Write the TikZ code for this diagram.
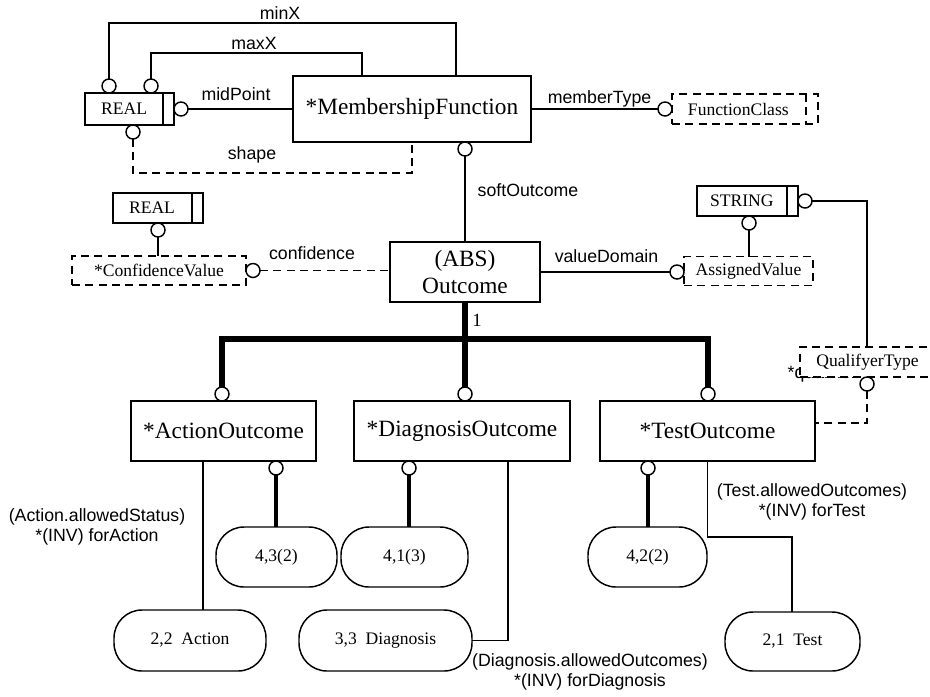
\documentclass[tikz,border=0pt]{standalone}
\usepackage{fontspec}
\setmainfont{Liberation Serif}
\newfontfamily\labfont{Liberation Sans}
\begin{document}
\begin{tikzpicture}[x=0.75pt,y=-0.75pt,
  line width=1.1pt,
  box/.style={draw, rectangle, inner sep=0pt, outer sep=0pt, align=center},
  big/.style={box, font=\fontsize{17.5}{20}\selectfont},
  small/.style={box, font=\fontsize{13.2}{15}\selectfont},
  dbox/.style={small, line width=0.8pt, dash pattern=on 6pt off 4pt, fill=white},
  rbox/.style={small, rounded corners=21pt},
  oc/.style={circle, draw, fill=white, minimum size=10.5pt, inner sep=0pt, outer sep=0pt},
  lab/.style={font=\labfont\fontsize{13.3}{15}\selectfont, inner sep=0pt, align=center},
  dline/.style={line width=0.8pt, dash pattern=on 6pt off 4pt},
  tree/.style={line width=4pt},
  stem/.style={line width=3pt}
]
\clip (0,0) rectangle (930,696);
\fill[white] (0,0) rectangle (930,696);

% entity boxes
\node[big, minimum width=178.5pt, minimum height=49.5pt] (mf) at (412,109) {*MembershipFunction};
\node[small, minimum width=66.75pt, minimum height=24pt] (real1) at (129.5,109) {REAL\hspace{8pt}};
\node[dbox, minimum width=109.5pt, minimum height=22.5pt] (fc) at (745,109) {FunctionClass\hspace{10pt}};
\node[small, minimum width=67.5pt, minimum height=22.5pt] (real2) at (158,208) {REAL\hspace{9pt}};
\node[dbox, minimum width=130.5pt, minimum height=21.75pt] (cv) at (159,270.5) {*ConfidenceValue};
\node[big, minimum width=112.5pt, minimum height=45pt] (out) at (465,272) {(ABS)\\Outcome};
\node[small, minimum width=75.75pt, minimum height=22.5pt] (str) at (747.5,201) {STRING\hspace{8.5pt}};
\node[dbox, minimum width=96.75pt, minimum height=21.75pt] (av) at (748.5,271) {AssignedValue};
\node[lab, anchor=base west] (qlab) at (787,378) {*qualifier};
\node[dbox, minimum width=101.25pt, minimum height=22.5pt] (qt) at (867.5,362) {QualifyerType};
\node[big, minimum width=138.75pt, minimum height=45pt] (ao) at (223.5,431) {*ActionOutcome};
\node[big, minimum width=162pt, minimum height=45pt] (do) at (462,431) {*DiagnosisOutcome};
\node[big, minimum width=161.25pt, minimum height=45pt] (to) at (707.5,431) {*TestOutcome};
\node[rbox, minimum width=90.75pt, minimum height=45pt] (r43) at (276.5,557) {4,3(2)};
\node[rbox, minimum width=95.25pt, minimum height=45pt] (r41) at (404.5,557) {4,1(3)};
\node[rbox, minimum width=89.25pt, minimum height=45pt] (r42) at (647.5,557) {4,2(2)};
\node[rbox, minimum width=114pt, minimum height=45.75pt] (r22) at (190,640.5) {2,2\ \ Action};
\node[rbox, minimum width=129.75pt, minimum height=45.75pt] (r33) at (385.5,640.5) {3,3\ \ Diagnosis};
\node[rbox, minimum width=101.25pt, minimum height=44.25pt] (r21) at (792.5,641.5) {2,1\ \ Test};

% dividers of simple types
\draw ([xshift=-8.25pt]real1.north east) -- ([xshift=-8.25pt]real1.south east);
\draw ([xshift=-8.25pt]real2.north east) -- ([xshift=-8.25pt]real2.south east);
\draw ([xshift=-8.25pt]str.north east) -- ([xshift=-8.25pt]str.south east);
\draw[dline] ([xshift=-9pt]fc.north east) -- ([xshift=-9pt]fc.south east);

% circles
\node[oc] (cminx) at (109,86) {};
\node[oc] (cmaxx) at (151,86) {};
\node[oc] (cmid) at (181,109) {};
\node[oc] (cshape) at (133,132) {};
\node[oc] (cmem) at (665,109) {};
\node[oc] (csoft) at (465,149) {};
\node[oc] (creal2) at (158,230) {};
\node[oc] (cconf) at (253,270.5) {};
\node[oc] (cstrav) at (749,223) {};
\node[oc] (cstrq) at (805,201) {};
\node[oc] (cvd) at (677,272) {};
\node[oc] (cqual) at (867,384) {};
\node[oc] (cao) at (222,394) {};
\node[oc] (cdo) at (465,394) {};
\node[oc] (cto) at (708,394) {};
\node[oc] (c43) at (276,468) {};
\node[oc] (c41) at (409,468) {};
\node[oc] (c42) at (648,468) {};

% attribute connectors
\coordinate (minxtop) at (456,23);
\coordinate (maxxtop) at (362,53);
\coordinate (shapebot) at (412,173);
\draw (cminx.north) |- (minxtop) -- (minxtop |- mf.north);
\draw (cmaxx.north) |- (maxxtop) -- (maxxtop |- mf.north);
\draw (cmid.east) -- (cmid.east -| mf.west);
\draw[dline] (cshape.south) |- (shapebot) -- (shapebot |- mf.south);
\draw (mf.east |- cmem.west) -- (cmem.west);
\draw (csoft.south) -- (csoft.south |- out.north);
\draw (creal2.south) -- (creal2.south |- cv.north);
\draw[dline] (cconf.east) -- (cconf.east -| out.west);
\draw (cvd.west -| out.east) -- (cvd.west);
\draw (cstrav.south) -- (cstrav.south |- av.north);
\coordinate (qtop) at (867,201);
\draw (cstrq.east) -- (qtop) -- (qtop |- qt.north);
\coordinate (qbot) at (867,423);
\draw[dline] (cqual.south) -- (qbot) -- (qbot -| to.east);

% subtype tree
\coordinate (j) at (465,339);
\draw[tree] (out.south) -- (cdo.north);
\draw[tree] (cao.north) -- (cao.north |- j) -- (cto.north |- j) -- (cto.north);

% lower connectors
\draw[stem] (c43.south) -- (c43.south |- r43.north);
\draw[stem] (c41.south) -- (c41.south |- r41.north);
\draw[stem] (c42.south) -- (c42.south |- r42.north);
\draw ([xshift=-15.4pt]ao.south) -- ([xshift=-15.4pt]ao.south |- r22.north);
\draw ([xshift=34.5pt]do.south) |- (r33.east);
\coordinate (tbend) at (792,537);
\draw (to.south) |- (tbend) -- (tbend |- r21.north);

% labels
\node[lab] (lminx) at (280,13) {minX};
\node[lab] (lmaxx) at (254,43) {maxX};
\node[lab] (lmid) at (236,94) {midPoint};
\node[lab] (lshape) at (252,155) {shape};
\node[lab] (lmem) at (599.5,99) {memberType};
\node[lab] (lsoft) at (528,190) {softOutcome};
\node[lab] (lconf) at (312,253) {confidence};
\node[lab] (lvd) at (606.5,256) {valueDomain};
\node[inner sep=0pt, font=\fontsize{14}{16}\selectfont] (lone) at (477,320) {1};
\node[lab] (lact) at (97,527) {(Action.allowedStatus)\\*(INV) forAction};
\node[lab] (ltest) at (812,502) {(Test.allowedOutcomes)\\*(INV) forTest};
\node[lab] (ldiag) at (590,672) {(Diagnosis.allowedOutcomes)\\*(INV) forDiagnosis};
\end{tikzpicture}
\end{document}
